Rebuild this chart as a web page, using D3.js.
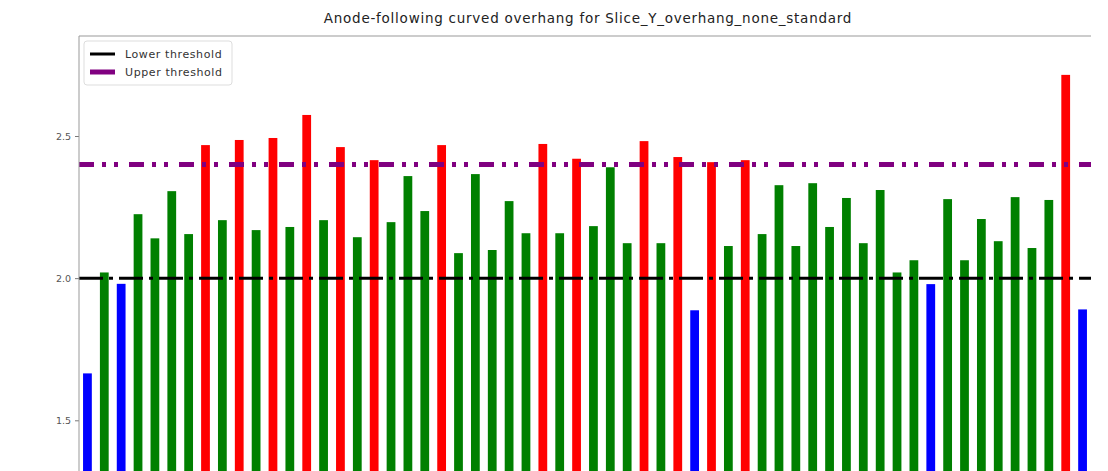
<!DOCTYPE html>
<html>
<head>
<meta charset="utf-8">
<script src="https://cdn.jsdelivr.net/npm/d3@7"></script>
<style>
  body { margin: 0; background: #fff; }
  svg { display: block; font-family: "DejaVu Sans", sans-serif; }
</style>
</head>
<body>
<svg id="chart" width="1108" height="471"></svg>
<script>
'use strict'

// ------ data ------
var titleText = 'Anode-following curved overhang for Slice_Y_overhang_none_standard'
var lowerThreshold = 2.0
var upperThreshold = 2.4
var yTicks = [1.5, 2.0, 2.5]
var overhang = [
  1.665, 2.02, 1.98, 2.225, 2.14, 2.306, 2.155, 2.468, 2.204, 2.486,
  2.169, 2.493, 2.18, 2.574, 2.204, 2.461, 2.144, 2.415, 2.197, 2.359,
  2.236, 2.468, 2.088, 2.366, 2.099, 2.271, 2.158, 2.472, 2.158, 2.42,
  2.183, 2.39, 2.123, 2.482, 2.123, 2.426, 1.887, 2.408, 2.113, 2.415,
  2.155, 2.327, 2.113, 2.334, 2.18, 2.282, 2.123, 2.31, 2.02, 2.063,
  1.979, 2.278, 2.063, 2.208, 2.13, 2.285, 2.106, 2.275, 2.715, 1.89
]

var svg = d3.select('#chart')

var plotLeft = 79
var plotRight = 1091
var plotTop = 36

var x = d3.scaleLinear()
  .domain([-0.5, overhang.length - 0.5])
  .range([plotLeft, plotRight])

var y = d3.scaleLinear()
  .domain([1.5, 2.5])
  .range([420.3, 136])

var yBottom = y(1.3)
var barWidth = 0.52

function barColor (v) {
  if (v > upperThreshold) return '#ff0000'
  if (v < lowerThreshold) return '#0000ff'
  return '#008000'
}

// ------ bars ------
svg.append('g')
  .selectAll('rect')
  .data(overhang)
  .join('rect')
  .attr('x', function (d, i) { return x(i - barWidth / 2) })
  .attr('width', x(barWidth) - x(0))
  .attr('y', function (d) { return y(d) })
  .attr('height', function (d) { return yBottom - y(d) })
  .attr('fill', barColor)

// ------ threshold lines ------
svg.append('line')
  .attr('x1', plotLeft).attr('x2', plotRight)
  .attr('y1', y(lowerThreshold)).attr('y2', y(lowerThreshold))
  .attr('stroke', '#000')
  .attr('stroke-width', 3)
  .attr('stroke-dasharray', '24,6,4,6')

svg.append('line')
  .attr('x1', plotLeft).attr('x2', plotRight)
  .attr('y1', y(upperThreshold)).attr('y2', y(upperThreshold))
  .attr('stroke', '#800080')
  .attr('stroke-width', 5)
  .attr('stroke-dasharray', '15,8,4,8,4,11')

// ------ frame and y axis ------
svg.append('line')
  .attr('x1', plotLeft).attr('x2', plotRight)
  .attr('y1', plotTop).attr('y2', plotTop)
  .attr('stroke', '#999').attr('stroke-width', 1)

var yAxis = svg.append('g')
  .attr('transform', 'translate(' + plotLeft + ',0)')
  .call(d3.axisLeft(y)
    .tickValues(yTicks)
    .tickFormat(d3.format('.1f'))
    .tickSize(4)
    .tickPadding(4))

yAxis.select('.domain').remove()
yAxis.append('line')
  .attr('x1', 0).attr('x2', 0)
  .attr('y1', plotTop).attr('y2', 471)
  .attr('stroke', '#999')
yAxis.selectAll('.tick line').attr('stroke', '#777')
yAxis.selectAll('.tick text')
  .attr('fill', '#555')
  .style('font-size', '9.5px')
  .style('font-family', '"DejaVu Sans", sans-serif')

// ------ title ------
svg.append('text')
  .attr('x', (plotLeft + plotRight) / 2 + 3)
  .attr('y', 23)
  .attr('text-anchor', 'middle')
  .attr('fill', '#222')
  .style('font-size', '13.5px')
  .style('letter-spacing', '0.75px')
  .text(titleText)

// ------ legend ------
var legend = svg.append('g').attr('transform', 'translate(84,41)')
legend.append('rect')
  .attr('width', 148).attr('height', 44)
  .attr('rx', 3)
  .attr('fill', '#fff').attr('fill-opacity', 0.8)
  .attr('stroke', '#ddd')

var legendItems = [
  { label: 'Lower threshold', color: '#000', width: 3 },
  { label: 'Upper threshold', color: '#800080', width: 5 }
]

legendItems.forEach(function (item, i) {
  var cy = 13 + i * 18
  legend.append('line')
    .attr('x1', 6).attr('x2', 31)
    .attr('y1', cy).attr('y2', cy)
    .attr('stroke', item.color)
    .attr('stroke-width', item.width)
  legend.append('text')
    .attr('x', 41).attr('y', cy + 4)
    .attr('fill', '#333')
    .style('font-size', '11px')
    .style('letter-spacing', '0.6px')
    .text(item.label)
})
</script>
</body>
</html>
